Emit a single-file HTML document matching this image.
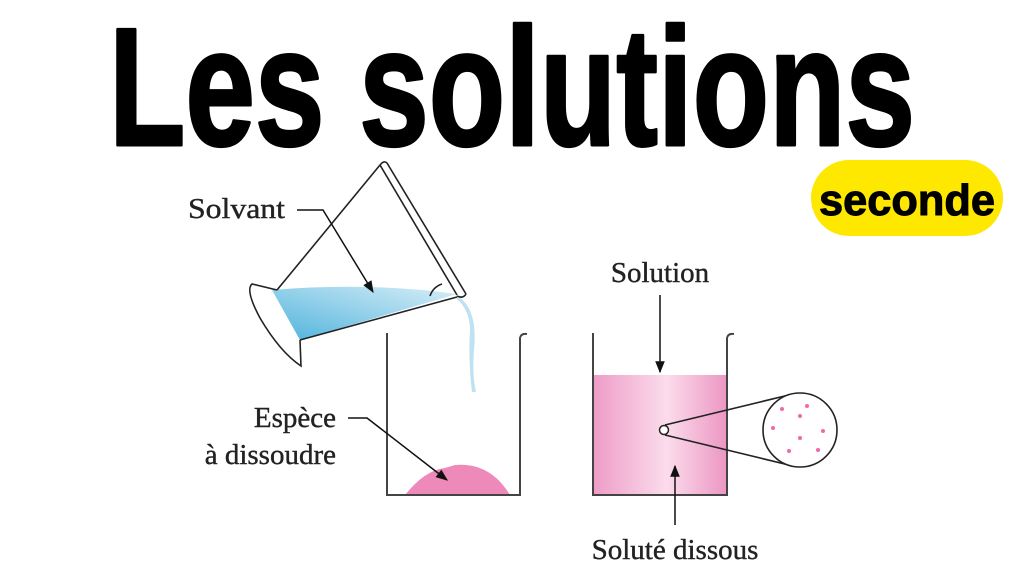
<!DOCTYPE html>
<html><head><meta charset="utf-8"><style>
html,body{margin:0;padding:0;background:#fff;}
svg{display:block}
</style></head><body>
<svg width="1024" height="576" viewBox="0 0 1024 576" xmlns="http://www.w3.org/2000/svg">
<defs>
<linearGradient id="water" x1="0" y1="1" x2="1" y2="0">
<stop offset="0" stop-color="#4fb3dc"/><stop offset="1" stop-color="#d8eef8"/>
</linearGradient>
<linearGradient id="pinkg" x1="0" y1="0" x2="1" y2="0">
<stop offset="0" stop-color="#ee9cc6"/><stop offset="0.55" stop-color="#fbdcec"/><stop offset="1" stop-color="#ec96c2"/>
</linearGradient>
<marker id="ah" viewBox="0 0 10 10" refX="9" refY="5" markerWidth="14" markerHeight="12" orient="auto" markerUnits="userSpaceOnUse">
<path d="M0,1 L10,5 L0,9 Z" fill="#111"/>
</marker>
</defs>
<rect width="1024" height="576" fill="#fff"/>
<!-- title -->
<text x="109" y="145" font-family="Liberation Sans, sans-serif" font-weight="bold" font-size="168" textLength="806" lengthAdjust="spacingAndGlyphs" fill="#000" stroke="#000" stroke-width="3" stroke-linejoin="round">Les solutions</text>
<!-- seconde pill -->
<rect x="811" y="160" width="192" height="76" rx="38" fill="#ffe800"/>
<text x="907" y="215" text-anchor="middle" font-family="Liberation Sans, sans-serif" font-weight="bold" font-size="44" textLength="176" lengthAdjust="spacingAndGlyphs" fill="#000" stroke="#000" stroke-width="1">seconde</text>

<!-- tilted beaker water -->
<path d="M272,290 Q370,282 457,294 L300,340 Z" fill="url(#water)"/>
<path d="M459,297 Q478,310 474,350 Q472,375 476,392 L472,392 Q468,360 470,330 Q470,310 456,298 Z" fill="#bfe2f3"/>
<g fill="none" stroke="#222" stroke-width="1.6">
<line x1="380" y1="165" x2="277" y2="290"/>
<line x1="457" y1="297" x2="300" y2="340"/>
<path d="M277,290 L252,284 Q245,290 260,318 Q280,352 301,366 L300,340"/>
<line x1="380" y1="165" x2="457" y2="295"/>
<line x1="387" y1="163" x2="466" y2="294"/>
<path d="M380,165 Q384,160 387,163"/>
<path d="M457,296 Q463,299 466,294"/>
<path d="M430,296 Q433,287 442,284"/>
</g>
<!-- beaker 1 -->
<path d="M405,495 Q425,470 445,468 L455,465 Q490,462 510,495 Z" fill="#ee8ab9"/>
<path d="M387,333 L387,495 L520,495 L520,338 Q521,333 527,334" fill="none" stroke="#444" stroke-width="2"/>
<!-- beaker 2 -->
<rect x="593" y="375" width="134" height="120" fill="url(#pinkg)"/>
<path d="M593,333 L593,495 L727,495 L727,338 Q728,333 734,334" fill="none" stroke="#444" stroke-width="2"/>
<g fill="none" stroke="#222" stroke-width="1.6">
<line x1="665" y1="425" x2="793" y2="394"/>
<line x1="665" y1="435" x2="793" y2="466"/>
</g>
<circle cx="664" cy="430" r="4.5" fill="#fff" stroke="#222" stroke-width="1.5"/>
<circle cx="800" cy="430" r="37" fill="#fff" stroke="#222" stroke-width="1.6"/>
<g fill="#f06aa8">
<circle cx="782" cy="409" r="2"/><circle cx="807" cy="406" r="2"/><circle cx="800" cy="416" r="2"/>
<circle cx="773" cy="428" r="2"/><circle cx="823" cy="431" r="2"/><circle cx="800" cy="438" r="2"/>
<circle cx="789" cy="451" r="2"/><circle cx="818" cy="450" r="2"/>
</g>
<!-- arrows -->
<g fill="none" stroke="#111" stroke-width="1.5">
<path d="M297,210 L323,210 L373,292" marker-end="url(#ah)"/>
<path d="M348,418 L367,418 L447,480" marker-end="url(#ah)"/>
<path d="M660,295 L660,372" marker-end="url(#ah)"/>
<path d="M675,525 L675,466" marker-end="url(#ah)"/>
</g>
<!-- labels -->
<g font-family="Liberation Serif, serif" font-size="29" fill="#222" stroke="#222" stroke-width="0.4">
<text x="188" y="218" textLength="97" lengthAdjust="spacingAndGlyphs">Solvant</text>
<text x="336" y="427" text-anchor="end">Espèce</text>
<text x="336" y="464" text-anchor="end">à dissoudre</text>
<text x="660" y="282" text-anchor="middle">Solution</text>
<text x="675" y="559" text-anchor="middle">Soluté dissous</text>
</g>
</svg>
</body></html>
